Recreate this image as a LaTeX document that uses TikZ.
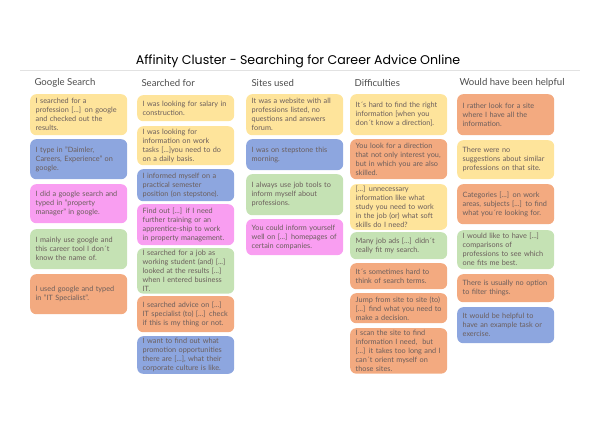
\documentclass[tikz,border=0pt]{standalone}
\usepackage{fontspec}
\setmainfont{Lato}
\newfontfamily\titlefont{Poppins}
\usetikzlibrary{positioning}
\definecolor{cyel}{HTML}{FEE49B}
\definecolor{cblu}{HTML}{8DA6DF}
\definecolor{cpnk}{HTML}{F99EF1}
\definecolor{cgrn}{HTML}{C5E2B4}
\definecolor{corg}{HTML}{F3AA80}
\definecolor{note}{HTML}{6B5E5C}
\definecolor{rule}{HTML}{E2E2E2}

\begin{document}
\begin{tikzpicture}[x=1pt, y=-1pt,
    card/.style={rounded corners=6pt, inner xsep=5.5pt, inner ysep=2pt, text width=86pt,
      align=left, anchor=north west, text=note, font=\fontsize{7.3}{9}\selectfont},
    head/.style={anchor=west, text=black!70, font=\fontsize{9.6}{11}\selectfont}]
  \useasboundingbox (0,0) rectangle (600,424);
  \node[font=\titlefont\fontsize{12.6}{15}\selectfont] (title) at (298,61) {Affinity Cluster - Searching for Career Advice Online};
  \coordinate (rl) at (20,70);
  \coordinate (rr) at (580,70);
  \draw[rule] (rl) -- (rr);
  % column headers
  \foreach \n/\x/\t in {hg/31/Google Search, hs/138/Searched for, hw/248/Sites used,
      hd/351/Difficulties, hh/456/Would have been helpful}
    \node[head] (\n) at (\x,83) {\t};
  % Google Search
  \foreach \n/\c/\y/\h/\t in {
      g1/cyel/94/41/{I searched for a\\profession [...] on google\\and checked out the\\results.},
      g2/cblu/139/40/{I type in "Daimler,\\Careers, Experience" on\\google.},
      g3/cpnk/184/39/{I did a google search and\\typed in "property\\manager" in google.},
      g4/cgrn/229/40/{I mainly use google and\\this career tool I don´t\\know the name of.},
      g5/corg/274/40/{I used google and typed\\in "IT Specialist".}}
    \node[card, fill=\c, minimum height=\h pt] (\n) at (30,\y) {\t};
  % Searched for
  \foreach \n/\c/\y/\h/\t in {
      s1/cyel/95/26/{I was looking for salary in\\construction.},
      s2/cyel/126/39/{I was looking for\\information on work\\tasks [...]you need to do\\on a daily basis.},
      s3/cblu/169/32/{I informed myself on a\\practical semester\\position (on stepstone).},
      s4/cpnk/204/41/{Find out [...] if I need\\further training or an\\apprentice-ship to work\\in property management.},
      s5/cgrn/248/45/{I searched for a job as\\working student (and) [...]\\looked at the results [...]\\when I entered business\\IT.},
      s6/corg/296/36/{I searched advice on [...]\\IT specialist (to) [...] check\\if this is my thing or not.},
      s7/cblu/336/37/{I want to find out what\\promotion opportunities\\there are [...], what their\\corporate culture is like.}}
    \node[card, fill=\c, minimum height=\h pt] (\n) at (137,\y) {\t};
  % Sites used
  \foreach \n/\c/\y/\h/\t in {
      w1/cyel/94/41/{It was a website with all\\professions listed, no\\questions and answers\\forum.},
      w2/cblu/139/31/{I was on stepstone this\\morning.},
      w3/cgrn/174/41/{I always use job tools to\\inform myself about\\professions.},
      w4/cpnk/219/36/{You could inform yourself\\well on [...] homepages of\\certain companies.}}
    \node[card, fill=\c, minimum height=\h pt] (\n) at (246,\y) {\t};
  % Difficulties
  \foreach \n/\c/\y/\h/\t in {
      d1/cyel/94/41/{It´s hard to find the right\\information [when you\\don´t know a direction].},
      d2/corg/139/40/{You look for a direction\\that not only interest you,\\but in which you are also\\skilled.},
      d3/cyel/184/43/{{[...]} unnecessary\\information like what\\study you need to work\\in the job (or) what soft\\skills do I need?},
      d4/cgrn/232/27/{Many job ads [...] didn´t\\really fit my search.},
      d5/corg/263/26/{It´s sometimes hard to\\think of search terms.},
      d6/corg/293/30/{Jump from site to site (to)\\{[...]} find what you need to\\make a decision.},
      d7/corg/328/45/{I scan the site to find\\information I need,~ but\\{[...]} it takes too long and I\\can´t orient myself on\\those sites.}}
    \node[card, fill=\c, minimum height=\h pt] (\n) at (350,\y) {\t};
  % Would have been helpful
  \foreach \n/\c/\y/\h/\t in {
      h1/corg/94/41/{I rather look for a site\\where I have all the\\information.},
      h2/cyel/140/39/{There were no\\suggestions about similar\\professions on that site.},
      h3/corg/184/40/{Categories [...] on work\\areas, subjects [...] to find\\what you´re looking for.},
      h4/cgrn/230/39/{I would like to have [...]\\comparisons of\\professions to see which\\one fits me best.},
      h5/corg/274/28/{There is usually no option\\to filter things.},
      h6/cblu/307/36/{It would be helpful to\\have an example task or\\exercise.}}
    \node[card, fill=\c, minimum height=\h pt] (\n) at (457,\y) {\t};
\end{tikzpicture}
\end{document}
